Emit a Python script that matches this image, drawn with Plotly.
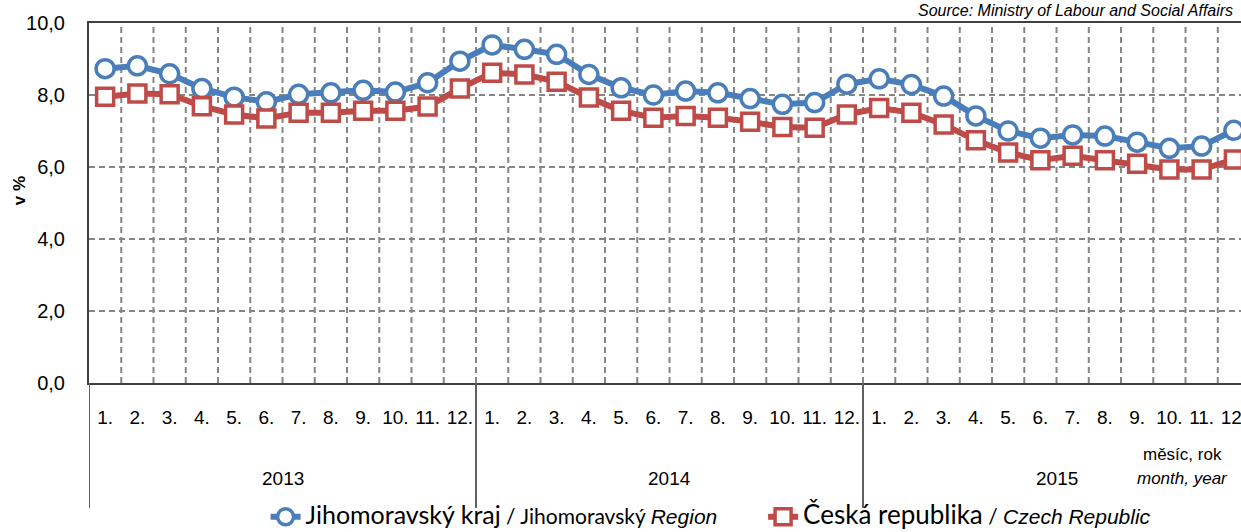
import plotly.graph_objects as go

months = ["1.", "2.", "3.", "4.", "5.", "6.", "7.", "8.", "9.", "10.", "11.", "12."]
years = ["2013", "2014", "2015"]
month_labels = months * len(years)
xs = list(range(len(month_labels)))

jihomoravsky = [8.73, 8.81, 8.59, 8.18, 7.94, 7.81, 8.02, 8.06, 8.13, 8.08, 8.34, 8.94,
                9.39, 9.27, 9.13, 8.57, 8.20, 8.00, 8.11, 8.06, 7.90, 7.74, 7.79, 8.30,
                8.45, 8.29, 7.97, 7.42, 7.00, 6.80, 6.89, 6.86, 6.69, 6.52, 6.58, 7.02]
cesko = [7.95, 8.04, 8.02, 7.69, 7.46, 7.35, 7.51, 7.51, 7.56, 7.56, 7.68, 8.18,
         8.62, 8.57, 8.37, 7.93, 7.56, 7.37, 7.42, 7.37, 7.26, 7.11, 7.09, 7.46,
         7.64, 7.51, 7.18, 6.74, 6.40, 6.19, 6.31, 6.19, 6.09, 5.93, 5.93, 6.21]

y_ticks = [0, 2, 4, 6, 8, 10]

BLUE = "#4A7EBB"
RED = "#BE4B48"
FONT = "Liberation Sans"
LEG_FONT = "Lato"


def legend_name(main, local, english, main_size=25, tail=""):
    return ('<span style="font-family:%s;font-size:%dpx">%s</span>'
            '<span style="font-family:%s;font-size:21px"> / %s</span>'
            '<span style="font-family:%s;font-size:21px"><i>%s</i>%s</span>'
            % (LEG_FONT, main_size, main, LEG_FONT, local, FONT, english, tail))


fig = go.Figure()
fig.add_trace(go.Scatter(
    x=xs, y=jihomoravsky, mode="lines+markers",
    name=legend_name("Jihomoravský kraj", "Jihomoravský ", "Region",
                     tail="&nbsp;" * 7),
    line=dict(color=BLUE, width=6),
    marker=dict(symbol="circle", size=18, color="white", line=dict(color=BLUE, width=3.5)),
))
fig.add_trace(go.Scatter(
    x=xs, y=cesko, mode="lines+markers",
    name=legend_name("Česká republika", "", "Czech Republic", main_size=26),
    line=dict(color=RED, width=6),
    marker=dict(symbol="square", size=17, color="white", line=dict(color=RED, width=3.5)),
))

shapes = []
for i in range(len(month_labels)):
    b = i + 0.5
    shapes.append(dict(type="line", xref="x", yref="paper", x0=b, x1=b, y0=0, y1=1,
                       line=dict(color="#858585", width=2, dash="6px,4px"), layer="below"))
for k in range(len(years) + 1):
    b = k * 12 - 0.5
    shapes.append(dict(type="line", xref="x", yref="paper", x0=b, x1=b, y0=0, y1=-0.347,
                       line=dict(color="#606060", width=2)))

annotations = []
for k, yr in enumerate(years):
    annotations.append(dict(x=k * 12 + 5.5, y=-0.265, xref="x", yref="paper", text=yr,
                            showarrow=False, font=dict(family=FONT, size=19, color="black"),
                            xanchor="center", yanchor="middle"))
annotations.append(dict(x=0.949, y=-0.198, xref="paper", yref="paper", text="měsíc, rok",
                        showarrow=False, font=dict(family=FONT, size=17, color="black"),
                        xanchor="center", yanchor="middle"))
annotations.append(dict(x=0.949, y=-0.265, xref="paper", yref="paper", text="<i>month, year</i>",
                        showarrow=False, font=dict(family=FONT, size=17, color="black"),
                        xanchor="center", yanchor="middle"))
annotations.append(dict(x=0.995, y=1.036, xref="paper", yref="paper",
                        text="<i>Source: Ministry of Labour and Social Affairs</i>",
                        showarrow=False, font=dict(family=FONT, size=16, color="black"),
                        xanchor="right", yanchor="middle"))
annotations.append(dict(x=-0.06, y=0.535, xref="paper", yref="paper", text="<b>v %</b>",
                        textangle=-90, showarrow=False,
                        font=dict(family=FONT, size=17, color="black"),
                        xanchor="center", yanchor="middle"))

fig.update_layout(
    width=1241, height=532,
    margin=dict(l=89, r=0, t=23, b=149, autoexpand=False),
    paper_bgcolor="white", plot_bgcolor="white",
    separators=", ",
    font=dict(family=FONT, size=18, color="black"),
    showlegend=True,
    legend=dict(orientation="h", x=0.54, xanchor="center", y=-0.372, yanchor="middle",
                font=dict(family=FONT, size=19, color="black"), bgcolor="rgba(0,0,0,0)"),
    shapes=shapes,
    annotations=annotations,
    xaxis=dict(range=[-0.5, 35.22], tickmode="array", tickvals=xs, ticktext=month_labels,
               showgrid=False, zeroline=False, showline=True, linecolor="#404040",
               linewidth=2, mirror=True, ticks="", ticklabelstandoff=16, automargin=False,
               ticklabeloverflow="allow",
               tickfont=dict(family=FONT, size=19, color="black")),
    yaxis=dict(range=[0, 10], tickvals=y_ticks, tickformat=".1f", showgrid=True,
               gridcolor="#858585", gridwidth=2, griddash="6px,4px", zeroline=False,
               showline=True, linecolor="#404040", linewidth=2, automargin=False,
               ticks="outside", ticklen=18, tickcolor="rgba(0,0,0,0)",
               tickfont=dict(family=FONT, size=20, color="black")),
)

fig.write_html("out.html", config={"displayModeBar": False},
               post_script="document.body.style.margin='0';"
               "document.body.style.overflow='hidden';")
